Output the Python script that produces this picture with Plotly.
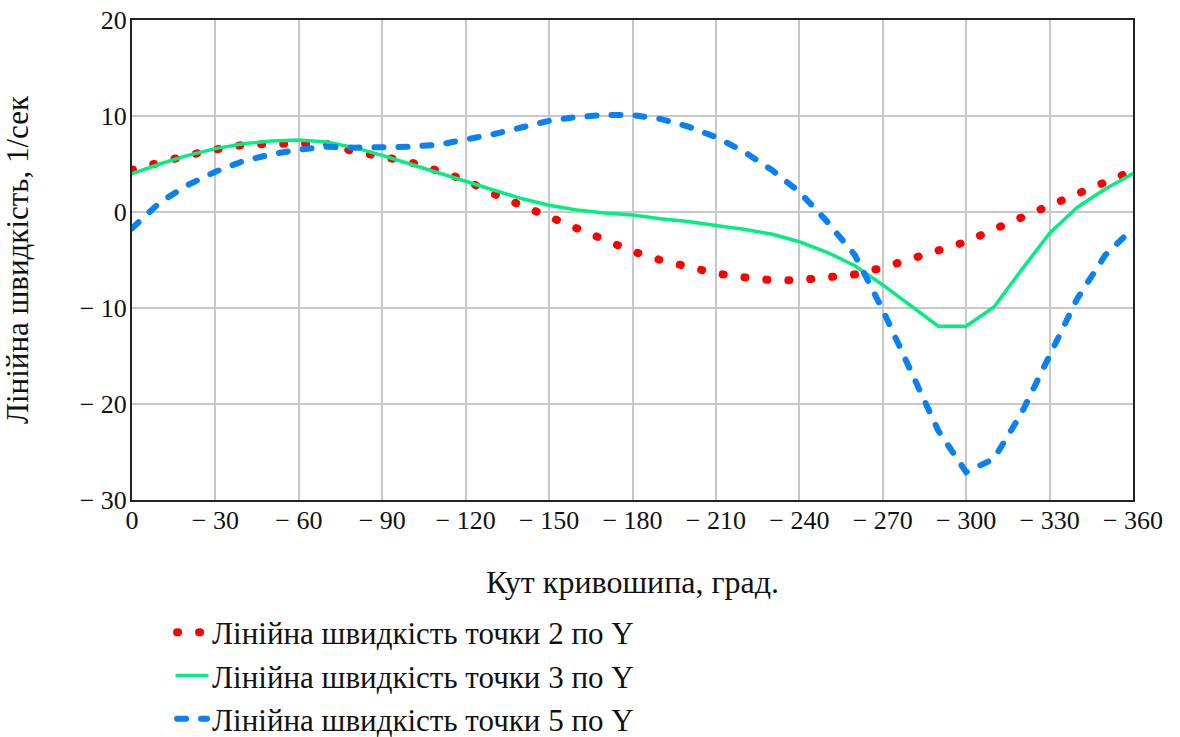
import plotly.graph_objects as go

angle = [0, -10, -20, -30, -40, -50, -60, -70, -80, -90, -100, -110, -120, -130, -140,
         -150, -160, -170, -180, -190, -200, -210, -220, -230, -240, -250, -260, -270,
         -280, -290, -300, -310, -320, -330, -340, -350, -360]

v2 = [4.4, 5.2, 5.9, 6.5, 7.0, 7.1, 7.2, 7.1, 6.3, 5.7, 5.2, 4.3, 3.3, 1.9, 0.7,
      -0.5, -1.8, -2.9, -4.1, -5.0, -5.7, -6.4, -6.8, -7.1, -7.1, -6.8, -6.5, -5.8,
      -4.9, -4.1, -3.1, -1.8, -0.5, 0.7, 1.9, 3.1, 4.3]

v3 = [4.0, 5.0, 5.9, 6.6, 7.1, 7.4, 7.5, 7.3, 6.7, 5.9, 5.0, 4.1, 3.2, 2.3, 1.4,
      0.7, 0.2, -0.1, -0.3, -0.7, -1.0, -1.4, -1.8, -2.3, -3.1, -4.2, -5.6, -7.6,
      -9.8, -11.9, -11.9, -9.9, -6.0, -2.2, 0.5, 2.4, 4.0]

v5 = [-1.7, 1.0, 2.8, 4.2, 5.3, 6.0, 6.5, 6.8, 6.7, 6.7, 6.8, 7.0, 7.5, 8.1, 8.8,
      9.5, 9.9, 10.1, 10.1, 9.7, 8.9, 7.8, 6.3, 4.4, 2.1, -1.0, -4.5, -10.2,
      -16.5, -22.8, -27.1, -25.7, -20.9, -14.9, -9.0, -4.5, -1.7]

names = ["Лінійна швидкість точки 2 по Y",
         "Лінійна швидкість точки 3 по Y",
         "Лінійна швидкість точки 5 по Y"]

x_ticks = [0, -30, -60, -90, -120, -150, -180, -210, -240, -270, -300, -330, -360]
x_ticktext = ["0"] + ["\u2212 " + str(-v) for v in x_ticks[1:]]
y_ticks = [20, 10, 0, -10, -20, -30]
y_ticktext = ["20", "10", "0", "\u2212 10", "\u2212 20", "\u2212 30"]

FONT = "Liberation Serif"

fig = go.Figure()
fig.add_trace(go.Scatter(x=angle, y=v2, mode="lines", name=names[0],
                         line=dict(color="#ff0000", width=8, dash="1px,21px")))
fig.add_trace(go.Scatter(x=angle, y=v3, mode="lines", name=names[1],
                         line=dict(color="#00f080", width=3.5)))
fig.add_trace(go.Scatter(x=angle, y=v5, mode="lines", name=names[2],
                         line=dict(color="#0a80f5", width=6, dash="9px,15px")))

axis_common = dict(showline=True, linecolor="#222222", linewidth=2, mirror=True,
                   showgrid=True, gridcolor="#c8c8c8", gridwidth=2, zeroline=False,
                   ticks="", tickfont=dict(family=FONT, size=26, color="#111111"))

fig.update_layout(
    width=1180, height=737,
    margin=dict(l=132, r=47, t=20, b=237, autoexpand=False),
    paper_bgcolor="white", plot_bgcolor="white",
    font=dict(family=FONT, color="#111111"),
    xaxis=dict(range=[0, -360], tickmode="array", tickvals=x_ticks, ticktext=x_ticktext,
               title=dict(text="Кут кривошипа, град.", font=dict(family=FONT, size=32), standoff=36),
               ticklabelstandoff=-4, **axis_common),
    yaxis=dict(range=[-30, 20], tickmode="array", tickvals=y_ticks, ticktext=y_ticktext,
               title=dict(text="Лінійна швидкість, 1/сек", font=dict(family=FONT, size=31), standoff=42),
               ticklabelstandoff=-2, **axis_common),
    legend=dict(x=0.04, xanchor="left", y=-0.22, yanchor="top", orientation="v",
                font=dict(family=FONT, size=31, color="#111111"),
                bgcolor="rgba(0,0,0,0)", tracegroupgap=0),
    showlegend=True,
)

post = """
var gd = document.getElementById('{plot_id}');
function roundCaps(){
  gd.querySelectorAll('path.js-line').forEach(function(p){ p.style.strokeLinecap='round'; });
}
roundCaps();
gd.on('plotly_afterplot', roundCaps);
"""

fig.write_html("out.html", post_script=post)
